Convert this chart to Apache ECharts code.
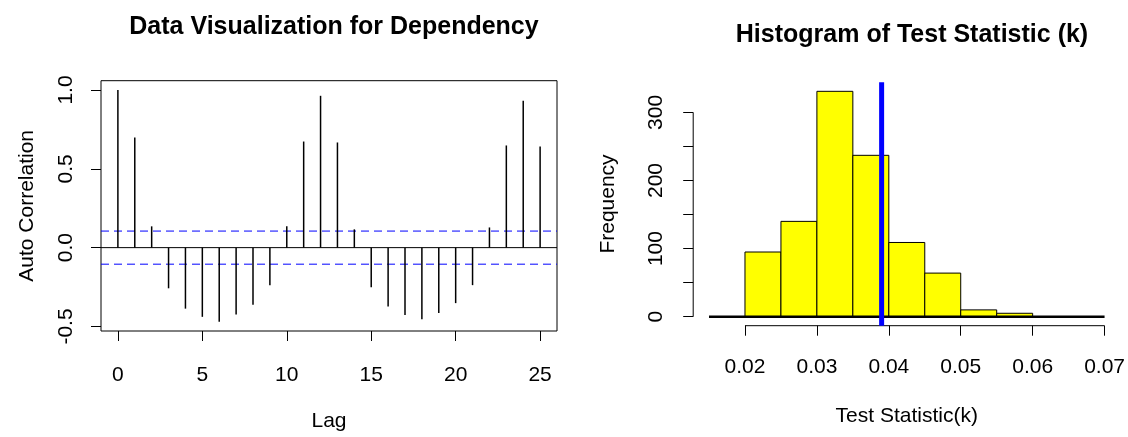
<!DOCTYPE html>
<html><head><meta charset="utf-8">
<script src="https://cdn.jsdelivr.net/npm/echarts@6/dist/echarts.min.js"></script>
<style>html,body{margin:0;padding:0;background:#fff}#c{width:1128px;height:437px}</style>
</head><body><div id="c"></div>
<script>
// ---- Left panel: autocorrelation ----
const lags = [0,1,2,3,4,5,6,7,8,9,10,11,12,13,14,15,16,17,18,19,20,21,22,23,24,25];
const acfValues = [1.0,0.698,0.135,-0.258,-0.387,-0.439,-0.470,-0.424,-0.362,-0.238,0.135,0.673,0.963,0.667,0.116,-0.252,-0.373,-0.428,-0.455,-0.414,-0.352,-0.238,0.128,0.648,0.932,0.642];
const confLimit = 0.105;
const lagRange = [-1, 26];
const acfRange = [-0.5288, 1.0588];
const lagTicks = [0,5,10,15,20,25];
const acfTicks = [-0.5,0,0.5,1.0];

// ---- Right panel: histogram ----
const histBreaks = [0.02,0.025,0.03,0.035,0.04,0.045,0.05,0.055,0.06];
const histCounts = [95,140,331,237,109,64,10,5];
const statRange = [0.0128, 0.0722];
const freqRange = [-13.24, 344.24];
const statTicks = [0.02,0.03,0.04,0.05,0.06,0.07];
const freqTicks = [0,50,100,150,200,250,300];
const freqLabels = [0,100,200,300];
const observedK = 0.039;
const baseLineX = [0.015, 0.07];

const FONT = "'Liberation Sans', Arial, sans-serif";
const FS = 21;

const acfData = lags.map((l,i)=>[l, acfValues[i]]);
const histData = histCounts.map((c,i)=>[histBreaks[i], histBreaks[i+1], c]);

const chart = echarts.init(document.getElementById('c'), null, {renderer:'canvas'});
const tickStyle = {color:'#000', width:1};
const hline = (y, color, type) => ({type:'line', xAxisIndex:0, yAxisIndex:0, silent:true, symbol:'none',
  data:[[lagRange[0], y],[lagRange[1], y]], lineStyle:{color:color, width:1, type:type}, z:2});
chart.setOption({
  animation:false,
  backgroundColor:'#fff',
  title:[
    {text:'Data Visualization for Dependency', left:329, top:10, textAlign:'center',
     textStyle:{fontFamily:FONT, fontSize:25, fontWeight:'bold', color:'#000'}},
    {text:'Histogram of Test Statistic (k)', left:907, top:18, textAlign:'center',
     textStyle:{fontFamily:FONT, fontSize:25, fontWeight:'bold', color:'#000'}}
  ],
  grid:[
    {left:101, top:80.7, width:456, height:256, show:true, borderColor:'#000', borderWidth:1, backgroundColor:'transparent'},
    {left:693.2, top:82.3, width:427.6, height:243.4, show:false}
  ],
  xAxis:[
    {type:'value', gridIndex:0, min:lagRange[0], max:lagRange[1],
     axisLine:{show:false, onZero:false}, splitLine:{show:false},
     axisTick:{show:true, customValues:lagTicks, length:10, lineStyle:tickStyle},
     axisLabel:{customValues:lagTicks, margin:33, fontFamily:FONT, fontSize:FS, color:'#000', lineHeight:22},
     name:'Lag', nameLocation:'middle', nameGap:79,
     nameTextStyle:{fontFamily:FONT, fontSize:FS, color:'#000', lineHeight:22}},
    {type:'value', gridIndex:1, min:statRange[0], max:statRange[1],
     axisLine:{show:false, onZero:false}, splitLine:{show:false},
     axisTick:{show:true, customValues:statTicks, length:10, lineStyle:tickStyle},
     axisLabel:{customValues:statTicks, margin:31, fontFamily:FONT, fontSize:FS, color:'#000', lineHeight:22,
       formatter:v=>v.toFixed(2)},
     name:'Test Statistic(k)', nameLocation:'middle', nameGap:80,
     nameTextStyle:{fontFamily:FONT, fontSize:FS, color:'#000', lineHeight:22}}
  ],
  yAxis:[
    {type:'value', gridIndex:0, min:acfRange[0], max:acfRange[1],
     axisLine:{show:false, onZero:false}, splitLine:{show:false},
     axisTick:{show:true, customValues:acfTicks, length:10, lineStyle:tickStyle},
     axisLabel:{customValues:acfTicks, rotate:90, margin:24, fontFamily:FONT, fontSize:FS, color:'#000', lineHeight:22,
       formatter:v=>v.toFixed(1)},
     name:'Auto Correlation', nameLocation:'middle', nameGap:63, nameRotate:90,
     nameTextStyle:{fontFamily:FONT, fontSize:FS, color:'#000', lineHeight:22}},
    {type:'value', gridIndex:1, min:freqRange[0], max:freqRange[1],
     axisLine:{show:false, onZero:false}, splitLine:{show:false},
     axisTick:{show:true, customValues:freqTicks, length:10, lineStyle:tickStyle},
     axisLabel:{customValues:freqLabels, rotate:90, margin:26, fontFamily:FONT, fontSize:FS, color:'#000', lineHeight:22},
     name:'Frequency', nameLocation:'middle', nameGap:74, nameRotate:90,
     nameTextStyle:{fontFamily:FONT, fontSize:FS, color:'#000', lineHeight:22}}
  ],
  series:[
    hline(0, '#000', 'solid'),
    hline(confLimit, '#0000FF', [8,5]),
    hline(-confLimit, '#0000FF', [8,5]),
    {type:'custom', xAxisIndex:0, yAxisIndex:0, data:acfData, silent:true, z:3,
     renderItem:(params, api)=>{
       const p0 = api.coord([api.value(0), 0]);
       const p1 = api.coord([api.value(0), api.value(1)]);
       return {type:'line', shape:{x1:p0[0], y1:p0[1], x2:p1[0], y2:p1[1]}, style:{stroke:'#000', lineWidth:1.5}};
     }},
    {type:'custom', xAxisIndex:1, yAxisIndex:1, data:histData, silent:true,
     encode:{x:[0,1], y:2},
     renderItem:(params, api)=>{
       const a = api.coord([api.value(0), 0]);
       const b = api.coord([api.value(1), api.value(2)]);
       return {type:'rect', shape:{x:a[0], y:b[1], width:b[0]-a[0], height:a[1]-b[1]},
         style:{fill:'#FFFF00', stroke:'#000', lineWidth:1}};
     }},
    {type:'line', xAxisIndex:1, yAxisIndex:1, silent:true, symbol:'none', clip:false,
     data:[[baseLineX[0],0],[baseLineX[1],0]], lineStyle:{color:'#000', width:2.5}, z:3},
    // partial axis lines (R style), from first to last tick
    {type:'line', xAxisIndex:1, yAxisIndex:1, silent:true, symbol:'none', clip:false,
     data:[[statTicks[0],freqRange[0]],[statTicks[statTicks.length-1],freqRange[0]]], lineStyle:{color:'#000', width:1}, z:3},
    {type:'line', xAxisIndex:1, yAxisIndex:1, silent:true, symbol:'none', clip:false,
     data:[[statRange[0],freqTicks[0]],[statRange[0],freqTicks[freqTicks.length-1]]], lineStyle:{color:'#000', width:1}, z:3},
    {type:'line', xAxisIndex:1, yAxisIndex:1, silent:true, symbol:'none', clip:false, z:4,
     data:[[observedK,freqRange[0]],[observedK,freqRange[1]]], lineStyle:{color:'#0000FF', width:5}}
  ]
});
</script>
</body></html>
